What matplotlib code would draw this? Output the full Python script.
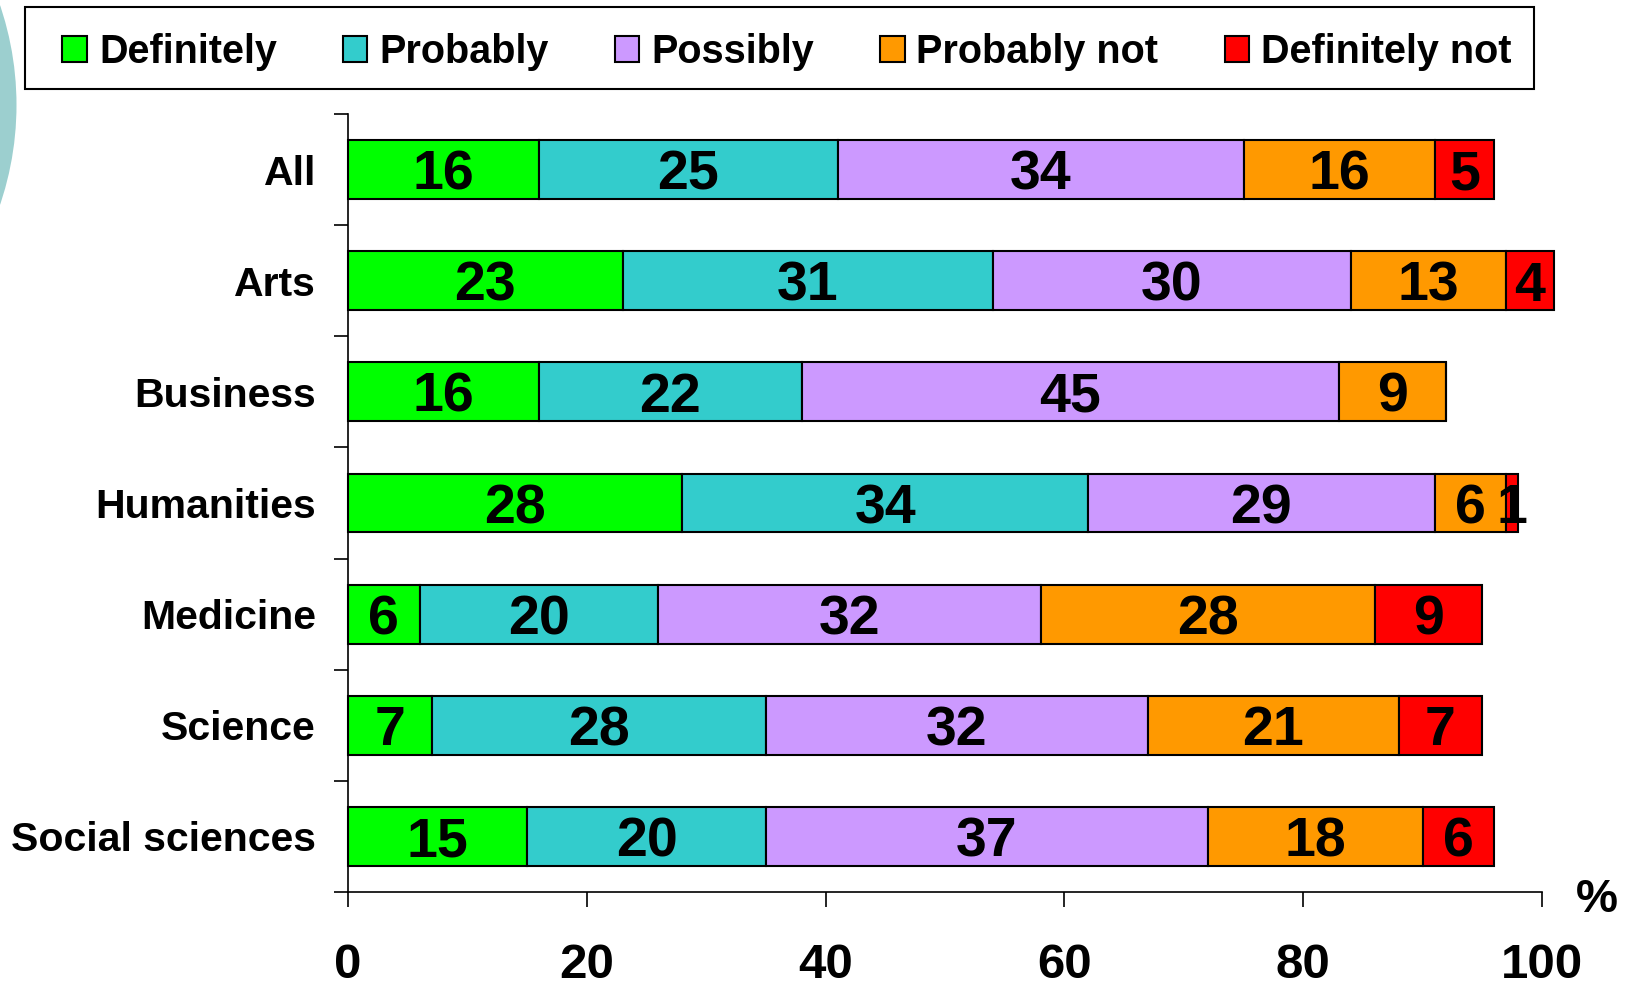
import matplotlib
matplotlib.use('Agg')
import matplotlib.pyplot as plt
from matplotlib.patches import Rectangle, Ellipse
import numpy as np

plt.rcParams['font.family'] = ['Liberation Sans', 'DejaVu Sans']
plt.rcParams['font.weight'] = 'bold'

# data (percent)
categories = ['All', 'Arts', 'Business', 'Humanities', 'Medicine', 'Science', 'Social sciences']
definitely = [16, 23, 16, 28, 6, 7, 15]
probably = [25, 31, 22, 34, 20, 28, 20]
possibly = [34, 30, 45, 29, 32, 32, 37]
probably_not = [16, 13, 9, 6, 28, 21, 18]
definitely_not = [5, 4, 0, 1, 9, 7, 6]
series_names = ['Definitely', 'Probably', 'Possibly', 'Probably not', 'Definitely not']
x_ticks = [0, 20, 40, 60, 80, 100]

colors = ['#00FF00', '#33CCCC', '#CC99FF', '#FF9900', '#FF0000']

W, H = 1627, 989
fig = plt.figure(figsize=(W / 100, H / 100), dpi=100)

# decorative circle peeking in at the top left
fig.add_artist(Ellipse((-294.5 / W, 1 - 105 / H), 2 * 311 / W, 2 * 311 / H,
                       transform=fig.transFigure, facecolor='#9CCFCF', edgecolor='none'))

ax = fig.add_axes([348 / W, 1 - 892 / H, (1542 - 348) / W, (892 - 114) / H])

ypos = np.arange(len(categories))
left = np.zeros(len(categories))
all_series = [definitely, probably, possibly, probably_not, definitely_not]
for name, vals, c in zip(series_names, all_series, colors):
    vals = np.array(vals, dtype=float)
    ax.barh(ypos, vals, left=left, height=0.53, color=c, edgecolor='black',
            linewidth=1.5, label=name, clip_on=False)
    for y, v, l in zip(ypos, vals, left):
        if v > 0:
            ax.annotate(f'{int(v)}', xy=(l + v / 2, y), xytext=(0, -14.5),
                        textcoords='offset points', ha='center', va='baseline',
                        fontsize=40, fontweight='bold', annotation_clip=False)
    left += vals

ax.set_xlim(0, 100)
ax.set_ylim(len(categories) - 0.5, -0.5)

# axes styling
for s in ['top', 'right']:
    ax.spines[s].set_visible(False)
for s in ['left', 'bottom']:
    ax.spines[s].set_linewidth(1.2)

ax.set_xticks(x_ticks)
ax.set_xticklabels([str(t) for t in x_ticks], fontsize=35.5, fontweight='bold')
ax.tick_params(axis='x', direction='out', length=11, width=1.2, pad=26)

ax.set_yticks(ypos)
ax.set_yticklabels(categories, fontsize=29.5, fontweight='bold')
ax.tick_params(axis='y', which='major', length=0, pad=23)
ax.set_yticks(np.arange(len(categories) + 1) - 0.5, minor=True)
ax.tick_params(axis='y', which='minor', direction='out', length=10, width=1.2)

fig.text(1597 / W, 1 - 900 / H, '%', ha='center', va='center', fontsize=34, fontweight='bold')

# legend with a plain square frame
fig.add_artist(Rectangle((25 / W, 1 - 89 / H), 1509 / W, 82 / H, transform=fig.transFigure,
                         fill=False, edgecolor='black', linewidth=1.5))
fig.legend(loc='center', bbox_to_anchor=(787 / W, 1 - 52 / H), ncol=5, frameon=False,
           prop={'size': 28.5, 'weight': 'bold'}, handlelength=0.62, handleheight=0.62,
           handletextpad=0.3, columnspacing=1.67)

fig.savefig('out.png', dpi=100)
